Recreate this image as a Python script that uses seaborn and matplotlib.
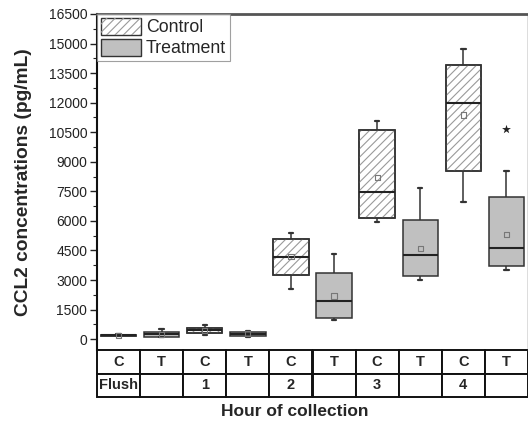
import numpy as np
import pandas as pd
import matplotlib
matplotlib.use("Agg")
import matplotlib.pyplot as plt
import seaborn as sns
from matplotlib.patches import Patch, PathPatch
from matplotlib.legend_handler import HandlerTuple
from matplotlib.ticker import MultipleLocator

# ---- data -------------------------------------------------------------
hours = ["Flush", "1", "2", "3", "4"]
groups = ["Control", "Treatment"]
group_codes = ["C", "T"]

# Summary per column (Flush C, Flush T, 1 C, 1 T, ... 4 C, 4 T), pg/mL
whisk_lo = [150, 120, 220, 120, 2560, 960, 5930, 2990, 6980, 3530]
q1 = [170, 130, 300, 150, 3270, 1060, 6140, 3220, 8550, 3710]
median = [190, 240, 440, 250, 4170, 1960, 7490, 4290, 11990, 4610]
q3 = [215, 350, 560, 350, 5080, 3380, 10610, 6070, 13900, 7200]
whisk_hi = [240, 510, 720, 420, 5380, 4300, 11080, 7660, 14710, 8520]
means = [190, 250, 450, 280, 4200, 2190, 8210, 4620, 11370, 5310]

outlier_cols = ["4 T"]
outlier_vals = [10660]

y_ticks = [0, 1500, 3000, 4500, 6000, 7500, 9000, 10500, 12000, 13500, 15000, 16500]

# ---- long-form table ----------------------------------------------------
columns, col_group, col_code, col_hour = [], [], [], []
for h in hours:
    for g, c in zip(groups, group_codes):
        columns.append(f"{h} {c}")
        col_group.append(g)
        col_code.append(c)
        col_hour.append(h)

rows = []
for i, col in enumerate(columns):
    for v in (whisk_lo[i], q1[i], median[i], q3[i], whisk_hi[i]):
        rows.append({"column": col, "group": col_group[i], "value": v})
df = pd.DataFrame(rows)

# ---- style ------------------------------------------------------------
sns.set_theme(style="white")
plt.rcParams["font.family"] = ["Liberation Sans", "DejaVu Sans"]
plt.rcParams["hatch.linewidth"] = 0.8

fig = plt.figure(figsize=(5.28, 4.26), dpi=100)
ax = fig.add_axes([97 / 528, 1 - 350 / 426, 1 - 97 / 528, (350 - 14) / 426])

edge = "#333333"
sns.boxplot(
    data=df, x="column", y="value", hue="group",
    order=columns, hue_order=groups, dodge=False,
    width=0.82, whis=(0, 100), saturation=1,
    palette={"Control": "white", "Treatment": "#c0c0c0"},
    linecolor=edge, linewidth=1.1, showfliers=False, legend=False,
    medianprops=dict(color="#222222", linewidth=1.5),
    ax=ax,
)

# short whisker caps and hatching on the control boxes
hatch_color = "#9a9a9a"
for k, cont in enumerate(ax.containers):
    for cap in getattr(cont, "caps", []):
        xd = np.asarray(cap.get_xdata(), dtype=float)
        c = xd.mean()
        cap.set_xdata([c - 0.05, c + 0.05])
        cap.set_linewidth(1.6)
    for line in list(getattr(cont, "medians", [])):
        line.set_zorder(4)
    if k == 0:
        for box in cont.boxes:
            hp = PathPatch(box.get_path(), transform=box.get_transform(),
                           facecolor="none", edgecolor=hatch_color,
                           hatch="////", linewidth=0, zorder=box.get_zorder() + 0.05)
            ax.add_patch(hp)
            outline = PathPatch(box.get_path(), transform=box.get_transform(),
                                facecolor="none", edgecolor=edge,
                                linewidth=1.1, zorder=box.get_zorder() + 0.1)
            ax.add_patch(outline)

# mean markers and outlier
pos = np.arange(len(columns))
sns.scatterplot(x=pos, y=means, marker="s", s=14, facecolors="none",
                edgecolor="#777777", linewidth=0.8, zorder=6, ax=ax, legend=False)
out_pos = [columns.index(c) for c in outlier_cols]
sns.scatterplot(x=out_pos, y=outlier_vals, marker="*", s=45, color="#222222",
                linewidth=0, zorder=6, ax=ax, legend=False)

# ---- axes ---------------------------------------------------------------
ax.set_xlim(-0.5, len(columns) - 0.5)
ax.set_ylim(-550, 16500)
ax.set_yticks(y_ticks)
ax.set_yticklabels([str(t) for t in y_ticks], fontsize=10, color="#222222")
ax.yaxis.set_minor_locator(MultipleLocator(750))
ax.tick_params(axis="y", which="major", direction="out", length=5, width=1,
               color="#222222", left=True, pad=2)
ax.tick_params(axis="y", which="minor", direction="out", length=3, width=0.8,
               color="#222222", left=True)
ax.set_xticks([])
ax.set_xlabel("")
ax.set_ylabel("CCL2 concentrations (pg/mL)", fontsize=13.8, fontweight="bold")
ax.yaxis.set_label_coords(-0.15, 0.5)

ax.spines["left"].set_color("#111111")
ax.spines["left"].set_linewidth(1.5)
ax.spines["top"].set_color("#555555")
ax.spines["top"].set_linewidth(2)
ax.spines["bottom"].set_visible(False)
ax.spines["right"].set_color("#555555")
ax.spines["right"].set_linewidth(1)

# ---- category table -------------------------------------------------------
row_codes = col_code
row_hours = [h if c == "C" else "" for h, c in zip(col_hour, col_code)]
h_tab = 47 / 336
tab = ax.table(cellText=[row_codes, row_hours], cellLoc="center",
               bbox=[0, -h_tab, 1, h_tab])
tab.auto_set_font_size(False)
for cell in tab.get_celld().values():
    cell.set_linewidth(1.4)
    cell.set_edgecolor("#111111")
    cell.get_text().set_fontsize(10.5)
    cell.get_text().set_fontweight("bold")
    cell.PAD = 0.02

fig.text(294.5 / 528, 1 - 411 / 426, "Hour of collection", ha="center",
         va="center", fontsize=12.5, fontweight="bold")

# ---- legend -------------------------------------------------------------
ctrl = (Patch(facecolor="white", edgecolor=edge, linewidth=1),
        Patch(facecolor="none", edgecolor=hatch_color, hatch="////", linewidth=0))
trt = Patch(facecolor="#c0c0c0", edgecolor=edge, linewidth=1)
leg = ax.legend([ctrl, trt], groups, loc="upper left", borderaxespad=0,
                fontsize=12.8, handlelength=2.25, handleheight=1.1,
                handletextpad=0.3, labelspacing=0.15, borderpad=0.2,
                frameon=True, fancybox=False,
                handler_map={tuple: HandlerTuple(ndivide=1)})
leg.get_frame().set_edgecolor("#888888")
leg.get_frame().set_linewidth(0.8)

fig.savefig("out.png", dpi=100)
